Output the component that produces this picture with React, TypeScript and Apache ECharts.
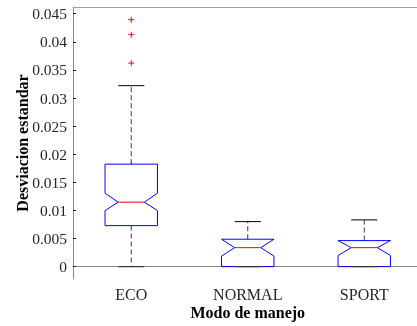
import React, { useEffect, useRef } from "react";
import * as echarts from "echarts";

const categories = ["ECO", "NORMAL", "SPORT"];
const lowerWhisker = [0, 0, 0];
const q1 = [0.0073, 0, 0];
const notchLow = [0.00997, 0.00188, 0.00198];
const median = [0.01147, 0.00338, 0.00338];
const notchHigh = [0.01307, 0.00488, 0.00463];
const q3 = [0.01824, 0.00488, 0.00463];
const upperWhisker = [0.0322, 0.00801, 0.00832];
const outliers = [
  [0, 0.04394],
  [0, 0.04127],
  [0, 0.03622],
];
const yTicks = [0, 0.005, 0.01, 0.015, 0.02, 0.025, 0.03, 0.035, 0.04, 0.045];
const yMin = -0.0022;
const yMax = 0.0462;

const FONT = "Liberation Serif";

export default function App() {
  const ref = useRef<HTMLDivElement>(null);
  useEffect(() => {
    if (!ref.current) return;
    const chart = echarts.init(ref.current, null, { renderer: "svg" });
    const boxData = categories.map((_, i) => [
      i,
      lowerWhisker[i],
      q1[i],
      notchLow[i],
      median[i],
      notchHigh[i],
      q3[i],
      upperWhisker[i],
    ]);
    const renderBox = (params: any, api: any) => {
      const idx = api.value(0);
      const band = api.size([1, 0])[0];
      const half = (band * 0.45) / 2;
      const cx = api.coord([idx, 0])[0];
      const y = (k: number) => api.coord([idx, api.value(k)])[1];
      const yLw = y(1), yQ1 = y(2), yNl = y(3), yMed = y(4), yNh = y(5), yQ3 = y(6), yUw = y(7);
      const L = cx - half, R = cx + half;
      const d = half / 2;
      const capHalf = half / 2;
      const dashStyle = { stroke: "#3a3a3a", lineWidth: 1, lineDash: [5, 3] };
      return {
        type: "group",
        children: [
          { type: "line", shape: { x1: cx, y1: yQ3, x2: cx, y2: yUw }, style: dashStyle },
          { type: "line", shape: { x1: cx, y1: yQ1, x2: cx, y2: yLw }, style: dashStyle },
          {
            type: "polygon",
            shape: {
              points: [
                [L, yQ1], [L, yNl], [L + d, yMed], [L, yNh], [L, yQ3],
                [R, yQ3], [R, yNh], [R - d, yMed], [R, yNl], [R, yQ1],
              ],
            },
            style: { fill: "none", stroke: "#0000ff", lineWidth: 1 },
          },
          { type: "line", shape: { x1: L + d, y1: yMed, x2: R - d, y2: yMed }, style: { stroke: "#ff0000", lineWidth: 1 } },
          { type: "line", shape: { x1: cx - capHalf, y1: yUw, x2: cx + capHalf, y2: yUw }, style: { stroke: "#000", lineWidth: 1 } },
          { type: "line", shape: { x1: cx - capHalf, y1: yLw, x2: cx + capHalf, y2: yLw }, style: { stroke: "#333", lineWidth: 1.2 } },
        ],
      };
    };
    const renderPlus = (params: any, api: any) => {
      const p = api.coord([api.value(0), api.value(1)]);
      const s = 3;
      const st = { stroke: "#ff0000", lineWidth: 1 };
      return {
        type: "group",
        children: [
          { type: "line", shape: { x1: p[0] - s, y1: p[1], x2: p[0] + s, y2: p[1] }, style: st },
          { type: "line", shape: { x1: p[0], y1: p[1] - s, x2: p[0], y2: p[1] + s }, style: st },
        ],
      };
    };
    chart.setOption({
      animation: false,
      grid: { left: 73, top: 7, width: 349.5, height: 272, outerBoundsMode: "none", containLabel: false },
      xAxis: [
        {
          type: "category",
          data: categories,
          boundaryGap: true,
          name: "Modo de manejo",
          nameLocation: "middle",
          nameGap: 25,
          nameMoveOverlap: false,
          nameTextStyle: { fontFamily: FONT, fontWeight: "bold", fontSize: 16, color: "#000" },
          axisLine: { lineStyle: { color: "#8a8a8a", width: 1 } },
          axisTick: { inside: true, alignWithLabel: true, length: 4, lineStyle: { color: "#222" } },
          axisLabel: { fontFamily: FONT, fontSize: 16, color: "#262626", margin: 7 },
          splitLine: { show: false },
        },
        {
          type: "category",
          data: categories,
          position: "top",
          boundaryGap: true,
          axisLine: { lineStyle: { color: "#a0a0a0", width: 1 } },
          axisTick: { inside: true, alignWithLabel: true, length: 4, lineStyle: { color: "#222" } },
          axisLabel: { show: false },
          splitLine: { show: false },
        },
      ],
      yAxis: {
        type: "value",
        min: yMin,
        max: yMax,
        name: "Desviacion estandar",
        nameLocation: "middle",
        nameGap: 43,
        nameMoveOverlap: false,
        nameTextStyle: { fontFamily: FONT, fontWeight: "bold", fontSize: 16, color: "#000" },
        axisLine: { show: true, lineStyle: { color: "#8a8a8a", width: 1 } },
        axisTick: { show: true, inside: true, length: 3, customValues: yTicks, lineStyle: { color: "#222" } },
        axisLabel: {
          fontFamily: FONT,
          fontSize: 15.5,
          color: "#262626",
          margin: 6,
          customValues: yTicks,
          formatter: (v: number) => String(v),
        },
        splitLine: { show: false },
      },
      series: [
        {
          type: "custom",
          renderItem: renderBox,
          data: boxData,
          encode: { x: 0, y: [1, 2, 3, 4, 5, 6, 7] },
          xAxisIndex: 0,
        },
        {
          type: "custom",
          renderItem: renderPlus,
          data: outliers,
          encode: { x: 0, y: 1 },
          xAxisIndex: 0,
        },
      ],
    });
    return () => chart.dispose();
  }, []);
  return <div ref={ref} style={{ width: 417, height: 326, position: "fixed", left: 0, top: 0 }} />;
}
